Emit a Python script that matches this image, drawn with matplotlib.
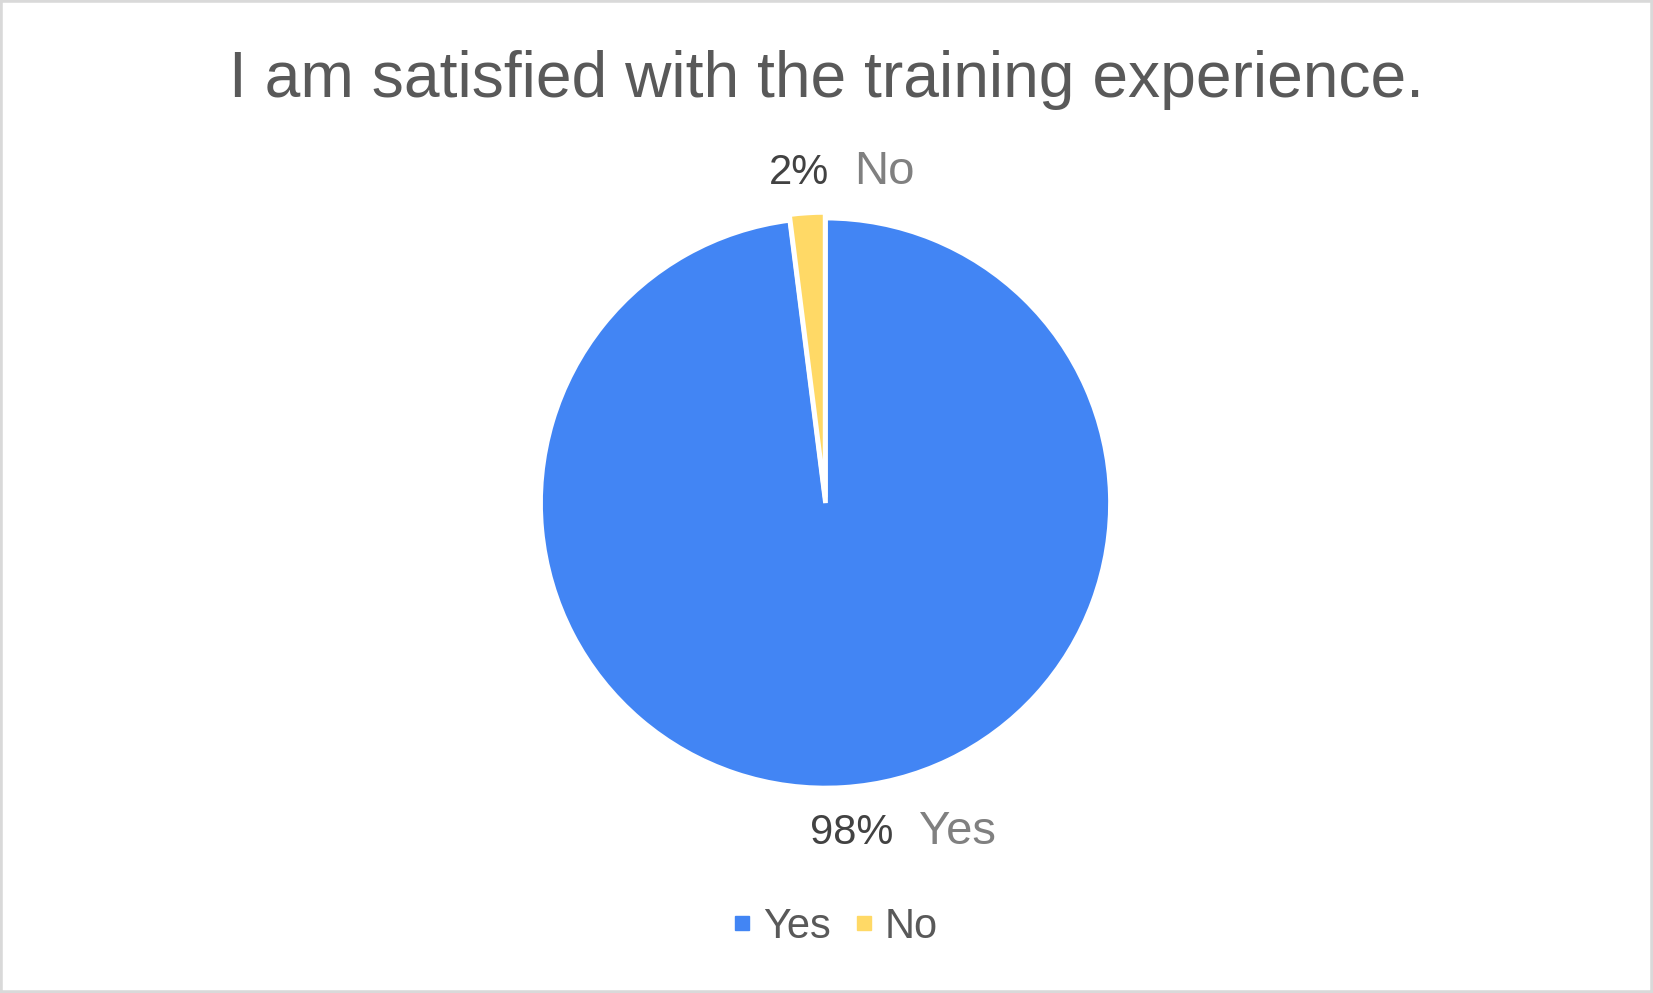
import matplotlib.pyplot as plt
import numpy as np
from matplotlib.lines import Line2D
from matplotlib.patches import Rectangle

plt.rcParams['font.family'] = ['Liberation Sans', 'DejaVu Sans']

# Data
labels = ['Yes', 'No']
values = [98, 2]
colors = ['#4285f4', '#ffd966']
title = 'I am satisfied with the training experience.'

fig = plt.figure(figsize=(16.53, 9.93), dpi=100)
fig.patch.set_facecolor('white')

# square axes so the pie sits where the reference puts it
ax = fig.add_axes([0.2408, 0.0629, 0.5172, 0.861])
wedges, _ = ax.pie(values, colors=colors, startangle=90, counterclock=False,
                   explode=[0, 0.02], radius=1,
                   wedgeprops=dict(edgecolor='white', linewidth=3.4))
ax.set_xlim(-1.5, 1.5)
ax.set_ylim(-1.5, 1.5)
ax.set_aspect('equal')
ax.axis('off')

# data labels: percent (dark) + category (grey), placed outside each wedge
total = sum(values)
dx = [0.21, 0.13]
for w, lab, v, d in zip(wedges, labels, values, dx):
    ang = np.deg2rad((w.theta1 + w.theta2) / 2)
    x = 1.16 * np.cos(ang) + d
    y = 1.16 * np.sin(ang)
    ax.text(x - 0.045, y, f'{round(v / total * 100)}%', ha='right', va='center',
            fontsize=30, color='#424242')
    ax.text(x + 0.045, y + 0.005, lab, ha='left', va='center',
            fontsize=34, color='#808080')

fig.text(0.5, 1 - 97 / 993, title, ha='center', va='baseline',
         fontsize=46.2, color='#595959')

handles = [Line2D([], [], marker='s', linestyle='none', markersize=10,
                  markerfacecolor=c, markeredgecolor=c) for c in colors]
fig.legend(handles, labels, loc='center', bbox_to_anchor=(833 / 1653, 1 - 927 / 993),
           ncol=2, frameon=False, fontsize=30, labelcolor='#595959',
           handletextpad=0.15, columnspacing=0.45, handlelength=0.7)

# light grey frame around the chart
fig.patches.append(Rectangle((0, 0), 1, 1, transform=fig.transFigure, fill=False,
                             edgecolor='#d9d9d9', linewidth=4))

fig.savefig('out.png', dpi=100)
